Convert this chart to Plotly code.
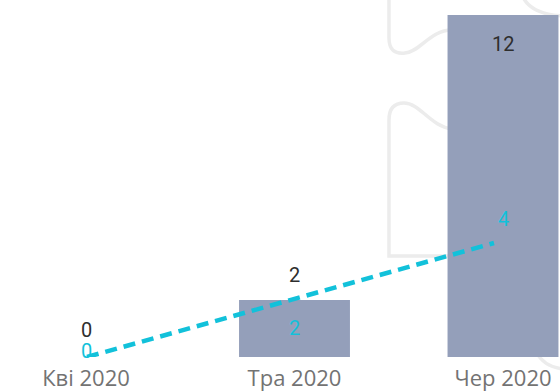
import plotly.graph_objects as go

categories = ["Кві 2020", "Тра 2020", "Чер 2020"]
bar_values = [0, 2, 12]
line_values = [0, 2, 4]

W, H = 560, 391
M_B = 34
PLOT_H = H - M_B

BAR_COLOR = "#949fba"
LINE_COLOR = "#12c1da"
DARK = "#2e2e2e"
TICK = "#737373"

x_idx = list(range(len(categories)))

fig = go.Figure()
fig.add_trace(go.Bar(
    x=x_idx, y=bar_values, marker=dict(color=BAR_COLOR, line=dict(width=0)), width=0.532,
    hoverinfo="skip", showlegend=False,
))
fig.add_trace(go.Scatter(
    x=x_idx, y=line_values, mode="lines", xaxis="x2",
    line=dict(color=LINE_COLOR, width=4.5, dash="12px,7px"),
    hoverinfo="skip", showlegend=False,
))

# value labels
bar_shift = [27, 25, -29]
line_shift = [6, -28, 24]
annotations = []
for i, v in enumerate(bar_values):
    annotations.append(dict(x=i, y=v, text=str(v), showarrow=False, xref="x", yref="y",
                            yshift=bar_shift[i],
                            font=dict(family="Roboto", size=20, color=DARK)))
for i, v in enumerate(line_values):
    annotations.append(dict(x=i, y=v, text=str(v), showarrow=False, xref="x", yref="y",
                            yshift=line_shift[i],
                            font=dict(family="Roboto", size=20, color=LINE_COLOR)))

# faint background watermark (decoration)
wm = dict(type="path", xref="paper", yref="paper", layer="below",
          line=dict(color="#ececec", width=3.5))

def to_paper(pts_cmd):
    out = []
    for tok in pts_cmd:
        if isinstance(tok, tuple):
            x, y = tok
            out.append(f"{x / W:.5f},{(PLOT_H - y) / PLOT_H:.5f}")
        else:
            out.append(tok)
    return " ".join(out)

wm_paths = [
    ["M", (389, -5), "L", (389, 38), "Q", (389, 55), (405, 53), "C", (420, 52), (430, 30), (452, 30)],
    ["M", (452, 129), "C", (430, 126), (420, 103), (404, 103), "Q", (389, 103), (389, 120),
     "L", (389, 256), "L", (452, 256)],
    ["M", (522, -5), "Q", (530, 15), (565, 16)],
    ["M", (536, 352), "Q", (545, 368), (565, 369)],
]
shapes = [dict(wm, path=to_paper(p)) for p in wm_paths]

bar_c0, bar_step = 86, 208.5
line_c0, line_step = 87, 203.5

fig.update_layout(
    width=W, height=H,
    margin=dict(l=0, r=0, t=0, b=M_B),
    paper_bgcolor="white", plot_bgcolor="rgba(0,0,0,0)",
    xaxis=dict(range=[-bar_c0 / bar_step, (W - bar_c0) / bar_step],
               tickmode="array", tickvals=x_idx, ticktext=categories,
               showgrid=False, zeroline=False, showline=False, ticks="",
               ticklabelstandoff=6,
               tickfont=dict(family="Open Sans", size=22, color=TICK)),
    xaxis2=dict(range=[-line_c0 / line_step, (W - line_c0) / line_step],
                overlaying="x", visible=False),
    yaxis=dict(range=[0, PLOT_H / 28.5], visible=False),
    annotations=annotations,
    shapes=shapes,
    showlegend=False,
)

fig.write_html("out.html", config={"displayModeBar": False},
               post_script="document.body.style.margin='0';")
